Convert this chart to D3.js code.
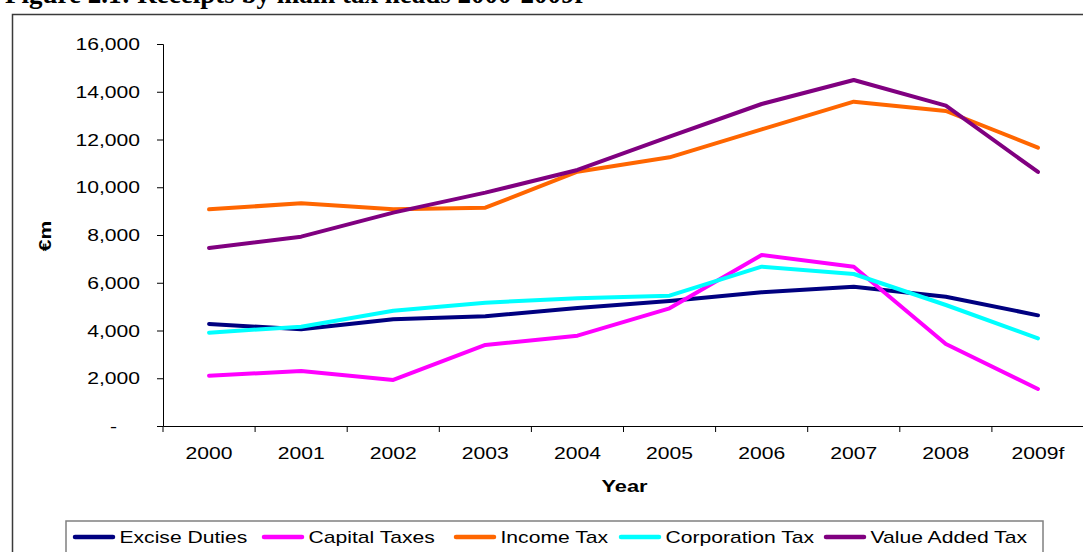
<!DOCTYPE html>
<html>
<head>
<meta charset="utf-8">
<script src="https://cdn.jsdelivr.net/npm/d3@7"></script>
<style>
  html, body { margin: 0; padding: 0; background: #fff; }
  svg { display: block; }
  .sans { font-family: "Liberation Sans", Arial, sans-serif; fill: #000; }
</style>
</head>
<body>
<svg id="chart" width="1083" height="552"></svg>
<script>
// Receipts by main tax heads, €m
const years = ["2000", "2001", "2002", "2003", "2004", "2005", "2006", "2007", "2008", "2009f"];
const exciseDuties   = [4272, 4049, 4468, 4593, 4942, 5236, 5598, 5836, 5417, 4635];
const capitalTaxes   = [2108, 2304, 1927, 3393, 3784, 4928, 7162, 6674, 3435, 1550];
const incomeTax      = [9077, 9327, 9077, 9145, 10653, 11253, 12425, 13585, 13194, 11658];
const corporationTax = [3909, 4161, 4831, 5166, 5347, 5459, 6674, 6367, 5068, 3672];
const valueAddedTax  = [7455, 7930, 8936, 9773, 10723, 12118, 13487, 14492, 13417, 10639];
const seriesNames  = ["Excise Duties", "Capital Taxes", "Income Tax", "Corporation Tax", "Value Added Tax"];
const seriesColors = ["#000080", "#FF00FF", "#FF6600", "#00FFFF", "#800080"];
const yTicks = [0, 2000, 4000, 6000, 8000, 10000, 12000, 14000, 16000];

const series = [exciseDuties, capitalTaxes, incomeTax, corporationTax, valueAddedTax]
  .map((values, i) => ({ name: seriesNames[i], color: seriesColors[i], values }));

const svg = d3.select("#chart");
const plot = { left: 163, right: 1084, top: 44, bottom: 426 };
const legendItemX = [73, 262, 454, 619, 824];
const stretch = 1.32;   // wide sans lettering used throughout the chart

// Place a text element at (px, py) drawn with horizontally widened glyphs
function wide(sel, px, py) {
  sel.attr("x", 0).attr("y", 0)
    .attr("transform", `translate(${px},${py}) scale(${stretch},1)`);
}

// Caption above the chart frame
svg.append("text")
  .attr("x", 5).attr("y", 3)
  .style("font-family", "'Liberation Serif', 'Times New Roman', serif")
  .style("font-weight", "bold").style("font-size", "27px")
  .text("Figure 2.1: Receipts by main tax heads 2000-2009f");

// Chart frame
svg.append("rect")
  .attr("x", 12.5).attr("y", 14.5).attr("width", 1080).attr("height", 600)
  .attr("fill", "none").attr("stroke", "#3a3a3a").attr("stroke-width", 1.5);

const x = d3.scaleBand().domain(years).range([plot.left, plot.right]).padding(0);
const y = d3.scaleLinear().domain([0, 16000]).range([plot.bottom, plot.top]);
const cx = d => x(d) + x.bandwidth() / 2;

// Y axis
const yAxis = svg.append("g")
  .attr("transform", `translate(${plot.left},0)`)
  .call(d3.axisLeft(y).tickValues(yTicks).tickSize(6)
    .tickFormat(d => d === 0 ? "-" : d3.format(",")(d)));
yAxis.select(".domain").attr("stroke", "#000");
yAxis.selectAll(".tick line").attr("stroke", "#000");
yAxis.selectAll(".tick text")
  .attr("class", "sans")
  .style("font-size", "16px")
  .attr("dy", "0.35em")
  .each(function (d) { wide(d3.select(this), d === 0 ? -46 : -23, 0); });

// X axis: labels at category centres, ticks on category boundaries
const xAxis = svg.append("g")
  .attr("transform", `translate(0,${plot.bottom})`)
  .call(d3.axisBottom(x).tickSize(0).tickPadding(0));
xAxis.select(".domain").attr("stroke", "#000");
xAxis.selectAll(".tick text")
  .attr("class", "sans")
  .style("font-size", "16px")
  .attr("dy", 0)
  .each(function () { wide(d3.select(this), 0, 33); });
const boundaries = years.map(d => x(d)).concat([x(years[years.length - 1]) + x.bandwidth()]);
xAxis.selectAll(".boundary").data(boundaries).enter().append("line")
  .attr("class", "boundary")
  .attr("x1", d => d).attr("x2", d => d)
  .attr("y1", 0).attr("y2", 6)
  .attr("stroke", "#000");

// Axis titles
svg.append("text").attr("class", "sans")
  .attr("text-anchor", "middle")
  .style("font-weight", "bold").style("font-size", "16.5px")
  .text("Year")
  .call(wide, (plot.left + plot.right) / 2 + 1, 492);
svg.append("text").attr("class", "sans")
  .attr("transform", `translate(51,${(plot.top + plot.bottom) / 2 + 1}) rotate(-90) scale(${stretch},1)`)
  .attr("text-anchor", "middle")
  .style("font-weight", "bold").style("font-size", "16px")
  .text("€m");

// Series lines
const line = d3.line().x((v, i) => cx(years[i])).y(v => y(v));
svg.append("g").selectAll("path").data(series).enter().append("path")
  .attr("d", s => line(s.values))
  .attr("fill", "none")
  .attr("stroke", s => s.color)
  .attr("stroke-width", 4)
  .attr("stroke-linejoin", "round")
  .attr("stroke-linecap", "round");

// Legend
const legend = svg.append("g");
legend.append("rect")
  .attr("x", 66).attr("y", 521).attr("width", 977).attr("height", 60)
  .attr("fill", "#fff").attr("stroke", "#808080").attr("stroke-width", 1.5);
const items = legend.selectAll(".item").data(series).enter().append("g")
  .attr("transform", (s, i) => `translate(${legendItemX[i]},0)`);
items.append("line")
  .attr("x1", 2).attr("x2", 40).attr("y1", 537).attr("y2", 537)
  .attr("stroke", s => s.color).attr("stroke-width", 4.5).attr("stroke-linecap", "round");
items.append("text").attr("class", "sans")
  .style("font-size", "16px")
  .text(s => s.name)
  .each(function () { wide(d3.select(this), 46.5, 542.5); });
</script>
</body>
</html>
